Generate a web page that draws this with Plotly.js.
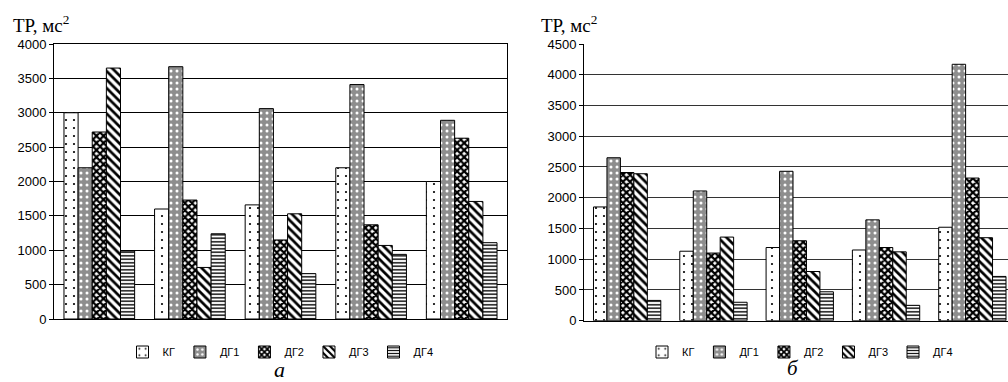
<!DOCTYPE html>
<html><head><meta charset="utf-8">
<script src="https://cdn.plot.ly/plotly-3.0.1.min.js"></script>
<style>html,body{margin:0;padding:0;overflow:hidden;background:#fff;width:1008px;height:382px}#chart{width:1016px;height:382px}</style>
</head><body><div id="chart"></div>
<script>
const groups = ['1','2','3','4','5'];
const seriesNames = ['КГ','ДГ1','ДГ2','ДГ3','ДГ4'];
// Panel а
const aKG  = [3000, 1600, 1660, 2200, 2000];
const aDG1 = [2200, 3670, 3060, 3410, 2890];
const aDG2 = [2720, 1730, 1150, 1370, 2630];
const aDG3 = [3650, 750, 1530, 1070, 1710];
const aDG4 = [990, 1240, 660, 940, 1110];
// Panel б
const bKG  = [1850, 1130, 1190, 1150, 1520];
const bDG1 = [2650, 2110, 2430, 1640, 4170];
const bDG2 = [2410, 1100, 1300, 1190, 2320];
const bDG3 = [2390, 1360, 800, 1120, 1350];
const bDG4 = [330, 300, 470, 250, 720];
const aTicks = [0,500,1000,1500,2000,2500,3000,3500,4000];
const bTicks = [0,500,1000,1500,2000,2500,3000,3500,4000,4500];

const patterns = [
  {shape:'.', bgcolor:'#ffffff', fgcolor:'#000000', size:8, solidity:0.06},
  {shape:'.', bgcolor:'#8e8e8e', fgcolor:'#ffffff', size:6, solidity:0.2},
  {shape:'x', bgcolor:'#ffffff', fgcolor:'#000000', size:5, solidity:0.7},
  {shape:'\\', bgcolor:'#ffffff', fgcolor:'#000000', size:6, solidity:0.45},
  {shape:'-', bgcolor:'#ffffff', fgcolor:'#000000', size:3.5, solidity:0.4}
];
const aData = [aKG,aDG1,aDG2,aDG3,aDG4];
const bData = [bKG,bDG1,bDG2,bDG3,bDG4];
const traces = [];
aData.forEach((v,i)=>traces.push({type:'bar', x:groups, y:v, name:seriesNames[i], xaxis:'x', yaxis:'y', legend:'legend',
  marker:{color:patterns[i].bgcolor, line:{color:'#000', width:1}, pattern:patterns[i]}}));
bData.forEach((v,i)=>traces.push({type:'bar', x:groups, y:v, name:seriesNames[i], xaxis:'x2', yaxis:'y2', legend:'legend2',
  marker:{color:patterns[i].bgcolor, line:{color:'#000', width:1}, pattern:patterns[i]}}));

const W = 1016, H = 382;
const tickFont = {family:'Liberation Sans, Arial, sans-serif', size:13, color:'#000'};
const legFont = {family:'Liberation Sans, Arial, sans-serif', size:11, color:'#000'};
const layout = {
  width:W, height:H, margin:{l:0,r:0,t:0,b:0}, paper_bgcolor:'#fff', plot_bgcolor:'#fff',
  bargap:0.22, bargroupgap:0, barmode:'group',
  font:{family:'Liberation Sans, Arial, sans-serif', size:12, color:'#000'},
  xaxis:{domain:[54/W, 507/W], anchor:'y', showticklabels:false, ticks:'', showline:true, linecolor:'#000', linewidth:1, mirror:true, showgrid:false, zeroline:false, fixedrange:true},
  yaxis:{domain:[1-319/H, 1-44/H], anchor:'x', range:[0,4000], tickvals:aTicks, ticks:'outside', ticklen:4, tickcolor:'#000', tickfont:tickFont,
    showline:true, linecolor:'#000', linewidth:1, mirror:true, showgrid:true, gridcolor:'#000', gridwidth:1, zeroline:false, automargin:false},
  xaxis2:{domain:[584/W, 1015.5/W], anchor:'y2', showticklabels:false, ticks:'', showline:true, linecolor:'#000', linewidth:1, showgrid:false, zeroline:false},
  yaxis2:{domain:[1-320.7/H, 1-44/H], anchor:'x2', range:[0,4500], tickvals:bTicks, ticks:'outside', ticklen:4, tickcolor:'#000', tickfont:tickFont,
    showline:true, linecolor:'#000', linewidth:1, showgrid:true, gridcolor:'#333', gridwidth:1, zeroline:false, automargin:false},
  legend:{orientation:'h', x:280.5/W, xanchor:'center', y:1-352/H, yanchor:'middle', font:legFont, itemwidth:30, bgcolor:'rgba(0,0,0,0)', traceorder:'normal'},
  legend2:{orientation:'h', x:800/W, xanchor:'center', y:1-352/H, yanchor:'middle', font:legFont, itemwidth:30, bgcolor:'rgba(0,0,0,0)', traceorder:'normal'},
  showlegend:true,
  annotations:[
    {text:'ТР, мс<sup>2</sup>', xref:'paper', yref:'paper', x:11/W, y:1-24/H, xanchor:'left', yanchor:'middle', showarrow:false, font:{family:'Liberation Serif, Times New Roman, serif', size:19, color:'#000'}},
    {text:'ТР, мс<sup>2</sup>', xref:'paper', yref:'paper', x:539/W, y:1-24/H, xanchor:'left', yanchor:'middle', showarrow:false, font:{family:'Liberation Serif, Times New Roman, serif', size:19, color:'#000'}},
    {text:'<i>а</i>', xref:'paper', yref:'paper', x:279/W, y:1-369/H, xanchor:'center', yanchor:'middle', showarrow:false, font:{family:'Liberation Serif, Times New Roman, serif', size:22, color:'#000'}},
    {text:'<i>б</i>', xref:'paper', yref:'paper', x:793/W, y:1-368/H, xanchor:'center', yanchor:'middle', showarrow:false, font:{family:'Liberation Serif, Times New Roman, serif', size:21, color:'#000'}}
  ]
};
Plotly.newPlot('chart', traces, layout, {staticPlot:true, displayModeBar:false});
</script></body></html>
